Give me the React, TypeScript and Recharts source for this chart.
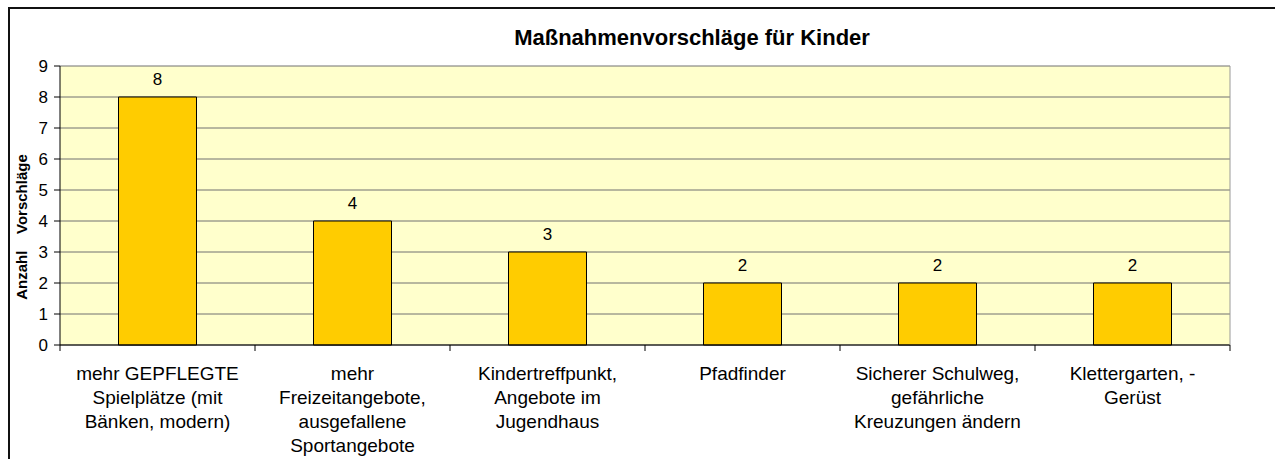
import { BarChart, Bar, XAxis, YAxis, CartesianGrid, LabelList, Label } from "recharts";

const categories = [
  "mehr GEPFLEGTE\nSpielplätze (mit\nBänken, modern)",
  "mehr\nFreizeitangebote,\nausgefallene\nSportangebote",
  "Kindertreffpunkt,\nAngebote im\nJugendhaus",
  "Pfadfinder",
  "Sicherer Schulweg,\ngefährliche\nKreuzungen ändern",
  "Klettergarten, -\nGerüst",
];
const counts = [8, 4, 3, 2, 2, 2];
const yTicks = [0, 1, 2, 3, 4, 5, 6, 7, 8, 9];

const FONT = '"Liberation Sans", Arial, sans-serif';

const data = categories.map((name, i) => ({ name, value: counts[i] }));

function CategoryTick(props: any) {
  const { x, y, payload, index } = props;
  const half = payload?.offset || 97.5;
  const lines = String(payload.value).split("\n");
  return (
    <g>
      <line x1={x - half} x2={x - half} y1={y} y2={y + 6} stroke="#000" />
      {index === categories.length - 1 && (
        <line x1={x + half} x2={x + half} y1={y} y2={y + 6} stroke="#000" />
      )}
      <text x={x} y={y} textAnchor="middle" fontSize={19} fontFamily={FONT} fill="#000">
        {lines.map((l, i) => (
          <tspan key={i} x={x} dy={i === 0 ? 35 : 24}>
            {l}
          </tspan>
        ))}
      </text>
    </g>
  );
}

export default function App() {
  return (
    <div
      style={{
        position: "fixed",
        left: 8,
        top: 7,
        width: 1267,
        height: 452,
        borderLeft: "2px solid #111",
        borderTop: "2px solid #111",
        background: "#fff",
        fontFamily: FONT,
      }}
    >
      <div
        style={{
          position: "absolute",
          left: 100,
          width: 1164,
          top: 18,
          textAlign: "center",
          fontSize: 22,
          lineHeight: 1,
          fontWeight: "bold",
          color: "#000",
          zIndex: 1,
        }}
      >
        Maßnahmenvorschläge für Kinder
      </div>
      <BarChart
        width={1265}
        height={450}
        data={data}
        margin={{ top: 57, right: 44, left: 0, bottom: 0 }}
        barCategoryGap="30%"
      >
        <CartesianGrid vertical={false} fill="#FFFFCC" stroke="#707070" />
        <XAxis
          dataKey="name"
          interval={0}
          height={114}
          tickSize={0}
          tickMargin={0}
          tickLine={false}
          axisLine={{ stroke: "#000" }}
          tick={<CategoryTick />}
        />
        <YAxis
          width={50}
          domain={[0, 9]}
          ticks={yTicks}
          interval={0}
          tickSize={6}
          tickMargin={6}
          axisLine={{ stroke: "#000" }}
          tickLine={{ stroke: "#000" }}
          tick={{ fontSize: 17, fill: "#000", fontFamily: FONT }}
        >
          <Label
            content={() => (
              <text
                x={11}
                y={218}
                transform="rotate(-90 11 218)"
                textAnchor="middle"
                dominantBaseline="central"
                fontSize={15}
                fontWeight="bold"
                fontFamily={FONT}
                fill="#000"
                style={{ whiteSpace: "pre" }}
              >
                {"Anzahl    Vorschläge"}
              </text>
            )}
          />
        </YAxis>
        <YAxis
          yAxisId="r"
          orientation="right"
          width={1}
          domain={[0, 9]}
          tick={false}
          tickLine={false}
          axisLine={{ stroke: "#999" }}
        />
        <Bar dataKey="value" fill="#FFCC00" stroke="#000" strokeWidth={1} isAnimationActive={false}>
          <LabelList
            dataKey="value"
            position="top"
            offset={12}
            fill="#000"
            fontSize={17}
            fontFamily={FONT}
          />
        </Bar>
      </BarChart>
    </div>
  );
}
